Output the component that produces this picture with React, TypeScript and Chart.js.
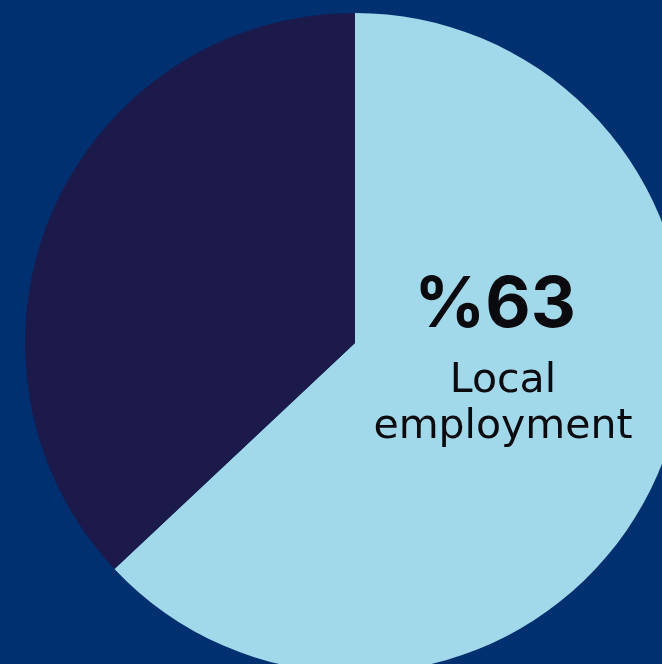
import React, { useEffect, useRef } from "react";
import { Chart, registerables } from "chart.js";

Chart.register(...registerables);

const categories = ["Local employment", "Other"];
const values = [63, 37];
const sliceColors = ["#a1d9ea", "#1b1a4b"];
const pageBg = "#00306f";

const centerTextPlugin = {
  id: "centerText",
  afterDraw(chart: any) {
    const { ctx, chartArea } = chart;
    const cx = (chartArea.left + chartArea.right) / 2;
    const cy = (chartArea.top + chartArea.bottom) / 2;
    const tx = cx + 148;
    ctx.save();
    ctx.fillStyle = "#0b0b0f";
    ctx.textAlign = "center";
    ctx.textBaseline = "alphabetic";
    ctx.font = "bold 70px Inter, 'Noto Sans', sans-serif";
    ctx.fillText("%" + values[0], tx - 8, cy - 16);
    ctx.font = "41px 'DejaVu Sans', sans-serif";
    const words = categories[0].split(" ");
    ctx.fillText(words[0], tx, cy + 49);
    ctx.fillText(words[1], tx, cy + 95);
    ctx.restore();
  },
};

export default function App() {
  const ref = useRef<HTMLCanvasElement | null>(null);
  useEffect(() => {
    document.body.style.margin = "0";
    const chart = new Chart(ref.current as HTMLCanvasElement, {
      type: "pie",
      data: {
        labels: categories,
        datasets: [
          {
            data: values,
            backgroundColor: sliceColors,
            borderWidth: 0,
          },
        ],
      },
      options: {
        animation: false,
        responsive: true,
        maintainAspectRatio: false,
        layout: { padding: 0 },
        plugins: {
          legend: { display: false },
          tooltip: { enabled: false },
        },
      },
      plugins: [centerTextPlugin],
    });
    return () => chart.destroy();
  }, []);

  return (
    <div
      style={{
        position: "relative",
        width: 662,
        height: 664,
        overflow: "hidden",
        background: pageBg,
      }}
    >
      <div style={{ position: "absolute", left: 25, top: 13, width: 660, height: 660 }}>
        <canvas ref={ref} />
      </div>
    </div>
  );
}
